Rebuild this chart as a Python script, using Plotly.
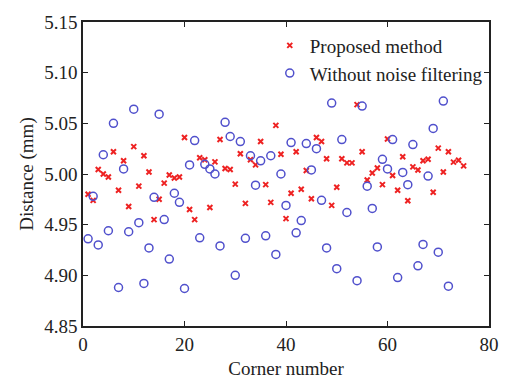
import plotly.graph_objects as go

# Proposed method (red crosses), corner numbers 1..75
prop_x = list(range(1, 76))
prop_y = [4.980, 4.974, 5.0045, 5.000, 4.997, 5.022, 4.984, 5.013, 4.968, 5.027,
          4.988, 5.018, 5.002, 4.955, 4.975, 4.991, 4.999, 4.996, 4.997, 5.036,
          4.965, 4.955, 5.016, 5.014, 4.967, 5.012, 5.034, 5.0055, 5.0045, 4.990,
          5.020, 4.971, 5.014, 5.009, 5.032, 4.9895, 4.972, 5.048, 5.0195, 4.956,
          4.981, 5.022, 4.985, 5.0035, 4.9755, 5.036, 5.032, 5.015, 4.969, 4.987,
          5.015, 5.011, 5.011, 5.0685, 5.022, 4.994, 5.001, 5.006, 4.9895, 5.0345,
          4.9986, 4.984, 5.017, 4.9736, 5.007, 5.004, 5.013, 5.0145, 4.982, 5.0255,
          5.002, 5.022, 5.0117, 5.0136, 5.008]

# Without noise filtering (blue circles)
raw_x = [1, 2, 3, 4, 5, 6, 7, 8, 9, 10, 11, 12, 13, 14, 15, 16, 17, 18, 19, 20,
         21, 22, 23, 24, 25, 26, 27, 28, 29, 30, 31, 32, 33, 34, 35, 36, 37, 38, 39, 40,
         41, 42, 43, 44, 45, 46, 47, 48, 49, 50, 51, 52, 54, 55, 56, 57, 58, 59, 60,
         61, 62, 63, 64, 65, 66, 67, 68, 69, 70, 71, 72]
raw_y = [4.936, 4.978, 4.930, 5.019, 4.944, 5.050, 4.888, 5.005, 4.943, 5.064,
         4.952, 4.892, 4.927, 4.977, 5.059, 4.955, 4.916, 4.981, 4.972, 4.887,
         5.009, 5.033, 4.937, 5.0095, 5.005, 5.000, 4.929, 5.051, 5.037, 4.900,
         5.032, 4.9365, 5.018, 4.989, 5.013, 4.939, 5.018, 4.9206, 5.000, 4.969,
         5.031, 4.942, 4.954, 5.030, 5.004, 5.025, 4.974, 4.927, 5.070, 4.9066,
         5.034, 4.962, 4.8947, 5.067, 4.988, 4.966, 4.928, 5.0145, 5.005,
         5.034, 4.8978, 5.0015, 4.9895, 5.029, 4.9094, 4.9305, 4.998, 5.045, 4.9228, 5.072, 4.8893]

x_ticks = [0, 20, 40, 60, 80]
y_ticks = [4.85, 4.90, 4.95, 5.00, 5.05, 5.10, 5.15]
y_tick_text = ["4.85", "4.90", "4.95", "5.00", "5.05", "5.10", "5.15"]

FONT = "Liberation Serif"

fig = go.Figure()
fig.add_trace(go.Scatter(
    x=prop_x, y=prop_y, mode="markers", name="Proposed method",
    marker=dict(symbol="x-thin", size=5, color="#ee2222",
                line=dict(width=2, color="#ee2222")),
))
fig.add_trace(go.Scatter(
    x=raw_x, y=raw_y, mode="markers", name="Without noise filtering",
    marker=dict(symbol="circle-open", size=8, color="#5050cc",
                line=dict(width=1.5, color="#5050cc")),
))

axis_common = dict(
    showline=True, linecolor="#222222", linewidth=1.5, mirror="ticks",
    ticks="inside", ticklen=5, tickcolor="#222222", tickwidth=1,
    showgrid=False, zeroline=False,
    tickfont=dict(family=FONT, size=19, color="#222222"),
)

fig.update_layout(
    width=511, height=388,
    margin=dict(l=83, r=20, t=20, b=51),
    paper_bgcolor="white", plot_bgcolor="white",
    font=dict(family=FONT, size=19, color="#222222"),
    showlegend=True,
    legend=dict(x=0.46, y=0.985, xanchor="left", yanchor="top",
                bgcolor="rgba(0,0,0,0)", borderwidth=0,
                font=dict(family=FONT, size=19, color="#222222"),
                itemwidth=30, tracegroupgap=0),
    xaxis=dict(range=[0, 80], tickvals=x_ticks,
               title=dict(text="Corner number", standoff=8,
                          font=dict(family=FONT, size=19, color="#222222")),
               **axis_common),
    yaxis=dict(range=[4.85, 5.15], tickvals=y_ticks, ticktext=y_tick_text,
               title=dict(text="Distance (mm)", standoff=6,
                          font=dict(family=FONT, size=19, color="#222222")),
               **axis_common),
)

fig.write_html("out.html")
